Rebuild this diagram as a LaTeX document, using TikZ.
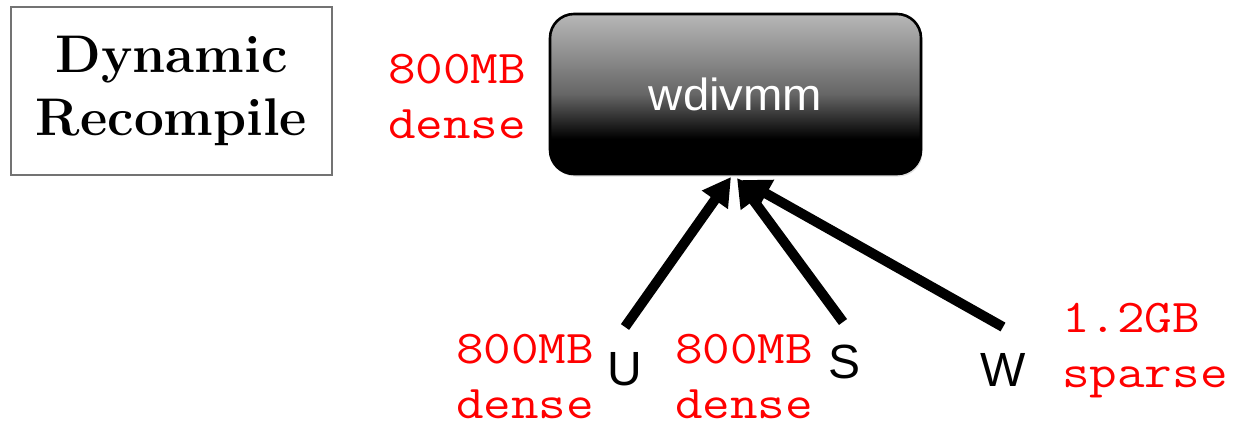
\documentclass[tikz,border=0pt]{standalone}
\usepackage{fontspec}
\usetikzlibrary{arrows.meta,shadows}
\newfontfamily\boxsans[FakeStretch=1.05]{Liberation Sans}
\newfontfamily\varsans{Liberation Sans}
\newfontfamily\sizemono[FakeStretch=1.14]{Latin Modern Mono}
% light grey at the top fading to black near the bottom
\pgfdeclareverticalshading{boxshade}{100bp}{color(0bp)=(black); color(25bp)=(black); color(36bp)=(black); color(50bp)=(black!60); color(75bp)=(black!28); color(100bp)=(black!28)}
\definecolor{sizered}{RGB}{255,0,0}
\begin{document}
\begin{tikzpicture}[x=1pt,y=-1pt,
  titlebox/.style={draw=black!55, line width=1.3pt, minimum width=321pt, minimum height=168pt,
    inner sep=0pt, align=center, font=\fontsize{53}{63}\selectfont\bfseries},
  opbox/.style={draw=black, line width=2.6pt, rounded corners=24pt, shading=boxshade,
    minimum width=371pt, minimum height=160pt, inner sep=0pt, text=white,
    font=\boxsans\fontsize{45}{50}\selectfont,
    drop shadow={opacity=0.25, shadow xshift=1.5pt, shadow yshift=-2.5pt}},
  varname/.style={inner sep=0pt, font=\varsans\fontsize{48}{50}\selectfont},
  sizetext/.style={inner sep=0pt, text=sizered, font=\sizemono\fontsize{47}{55}\selectfont},
  feed/.style={line width=10pt, -{Triangle[length=28pt, width=30pt]}}]
\useasboundingbox (0,0) rectangle (1258,431);

% legend box
\node[titlebox] (title) at (171.5,91) {Dynamic\\Recompile};

% operator
\node[opbox] (op) at (735.5,94) {wdivmm};
\node[sizetext, anchor=base] (opsizeA) at (457,83) {800MB};
\node[sizetext, anchor=base] (opsizeB) at (457,138) {dense};

% inputs
\node[varname] (U) at (625,369) {U};
\node[varname] (S) at (844,362) {S};
\node[varname] (W) at (1003,370) {W};

\node[sizetext, anchor=base] (usizeA) at (525,363) {800MB};
\node[sizetext, anchor=base] (usizeB) at (525,418) {dense};
\node[sizetext, anchor=base] (ssizeA) at (744,363) {800MB};
\node[sizetext, anchor=base] (ssizeB) at (744,418) {dense};
\node[sizetext, anchor=base west] (wsizeA) at (1062,332) {1.2GB};
\node[sizetext, anchor=base west] (wsizeB) at (1062,387) {sparse};

% arrow tails above the input names, tips just under the operator
\coordinate (uTail) at (625,327);
\coordinate (sTail) at (843,322);
\coordinate (wTail) at (1003,327);
\coordinate (uTip) at (731,177);
\coordinate (sTip) at (737,178);
\coordinate (wTip) at (742,180);

\draw[feed] (uTail) -- (uTip);
\draw[feed] (sTail) -- (sTip);
\draw[feed] (wTail) -- (wTip);
\end{tikzpicture}
\end{document}
